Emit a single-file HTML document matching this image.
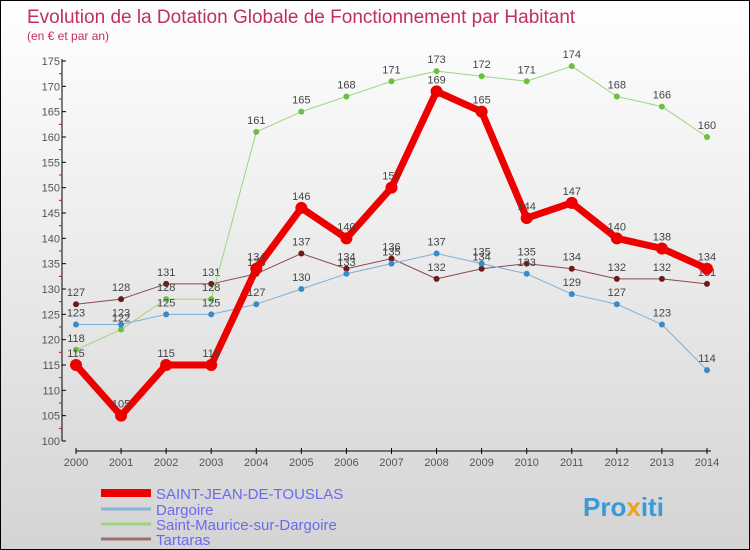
<!DOCTYPE html>
<html><head><meta charset="utf-8"><style>
body{margin:0}
#c{width:750px;height:550px;position:relative;box-sizing:border-box;border:1px solid #000;background:linear-gradient(#ffffff,#d4d4d4);font-family:"Liberation Sans",sans-serif;overflow:hidden}
</style></head><body>
<div id="c">
<svg id="s" width="750" height="550" style="position:absolute;left:0;top:0">
<text x="26" y="22" font-size="19" fill="#c0305a">Evolution de la Dotation Globale de Fonctionnement par Habitant</text>
<text x="26" y="39" font-size="12" fill="#c0305a">(en € et par an)</text>
<g id="ax"></g><g id="pl"></g>
<g>
<line x1="100" y1="492" x2="150" y2="492" stroke="#e00" stroke-width="8"/>
<text x="155" y="498" font-size="15" fill="#6a6aee">SAINT-JEAN-DE-TOUSLAS</text>
<line x1="100" y1="508" x2="150" y2="508" stroke="#8ab4d4" stroke-width="3"/>
<text x="155" y="514" font-size="15" fill="#6a6aee">Dargoire</text>
<line x1="100" y1="523" x2="150" y2="523" stroke="#9ed47e" stroke-width="3"/>
<text x="155" y="529" font-size="15" fill="#6a6aee">Saint-Maurice-sur-Dargoire</text>
<line x1="100" y1="538" x2="150" y2="538" stroke="#9a6e6e" stroke-width="3"/>
<text x="155" y="544" font-size="15" fill="#6a6aee">Tartaras</text>
</g>
<text x="582" y="515" font-size="26" font-weight="bold" fill="#3a9ad9">Pro<tspan fill="#f0a020">x</tspan>iti</text>
</svg>
</div>
<script>
const years=[2000,2001,2002,2003,2004,2005,2006,2007,2008,2009,2010,2011,2012,2013,2014];
const yTicks=[100,105,110,115,120,125,130,135,140,145,150,155,160,165,170,175];
const sj=[115,105,115,115,134,146,140,150,169,165,144,147,140,138,134];
const dar=[123,123,125,125,127,130,133,135,137,135,133,129,127,123,114];
const smd=[118,122,128,128,161,165,168,171,173,172,171,174,168,166,160];
const tar=[127,128,131,131,133,137,134,136,132,134,135,134,132,132,131];
const NS="http://www.w3.org/2000/svg";
const X=i=>75+i*45.07, Y=v=>440-(v-100)*(380/75);
function mk(t,a,p){const e=document.createElementNS(NS,t);for(const k in a)e.setAttribute(k,a[k]);p.appendChild(e);return e;}
const ax=document.getElementById('ax'),pl=document.getElementById('pl');
let l=mk('line',{x1:61,y1:58,x2:61,y2:440,stroke:'#000'},ax);


l=mk('line',{x1:75,y1:450,x2:710,y2:450,stroke:'#000'},ax);


yTicks.forEach((v,i)=>{mk('line',{x1:61,y1:Y(v),x2:65,y2:Y(v),stroke:'#000'},ax);
 if(i<yTicks.length-1)mk('line',{x1:58,y1:Y(v+2.5),x2:61,y2:Y(v+2.5),stroke:'#e00'},ax);
 const t=mk('text',{x:59,y:Y(v)+4,'font-size':11,fill:'#555','text-anchor':'end'},ax);t.textContent=v;
 
 });
years.forEach((y,i)=>{mk('line',{x1:X(i),y1:447,x2:X(i),y2:453,stroke:'#000'},ax);
 const t=mk('text',{x:X(i),y:465,'font-size':11,fill:'#555','text-anchor':'middle'},ax);t.textContent=y;
 
 });
function series(d,col,dot,w,r,name){
 const g=mk('g',{},pl);
 
 
 mk('polyline',{points:d.map((v,i)=>X(i)+','+Y(v)).join(' '),fill:'none',stroke:col,'stroke-width':w,'stroke-linejoin':'round'},g);
 d.forEach((v,i)=>{const c=mk('circle',{cx:X(i),cy:Y(v),r:r,fill:dot},g);
  
  
  const t=mk('text',{x:X(i),y:Y(v)-8,'font-size':11,fill:'#444','text-anchor':'middle'},g);t.textContent=v;});
}
series(tar,'#8a4a4a','#6a1a1a',1,3,'tartaras-series');
series(smd,'#9ed47e','#6cc040',1,3,'saint-maurice-series');
series(dar,'#7ab0d8','#3a8ac8',1,3,'dargoire-series');
series(sj,'#ee0000','#ee0000',7,6,'saint-jean-series');
</script>
</body></html>
